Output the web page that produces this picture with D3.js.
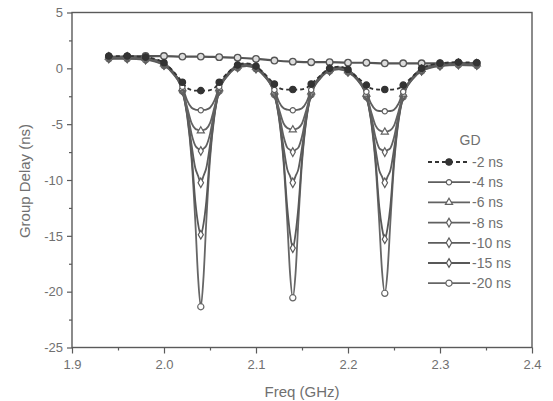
<!DOCTYPE html>
<html>
<head>
<meta charset="utf-8">
<script src="https://cdn.jsdelivr.net/npm/d3@7"></script>
<style>
  body { margin: 0; background: #fff; }
  svg { display: block; font-family: 'Liberation Sans', Arial, sans-serif; }
</style>
</head>
<body>
<svg id="chart" width="553" height="401"></svg>
<script>
// frequency grid (GHz), denser near the three resonances
var freqs = [
  1.94, 1.96, 1.98, 2.0, 2.01, 2.02, 2.025, 2.03, 2.034, 2.037, 2.04, 2.043,
  2.046, 2.05, 2.055, 2.06, 2.07, 2.08, 2.09, 2.1, 2.11, 2.12, 2.125, 2.13,
  2.134, 2.137, 2.14, 2.143, 2.146, 2.15, 2.155, 2.16, 2.17, 2.18, 2.19, 2.2,
  2.21, 2.22, 2.225, 2.23, 2.234, 2.237, 2.24, 2.243, 2.246, 2.25, 2.255,
  2.26, 2.27, 2.28, 2.3, 2.32, 2.34,
]

var gd2 = [
  1.1, 1.1, 1.0, 0.5, -0.25, -1.25, -1.75, -1.95, -2.0, -2.0, -2.0, -2.0,
  -2.0, -1.95, -1.75, -1.25, -0.35, 0.3, 0.45, 0.2, -0.55, -1.4, -1.75, -1.88,
  -1.9, -1.9, -1.9, -1.9, -1.9, -1.88, -1.75, -1.4, -0.65, 0.0, 0.15, -0.1,
  -0.8, -1.5, -1.8, -1.88, -1.9, -1.9, -1.9, -1.9, -1.9, -1.88, -1.8, -1.5,
  -0.75, 0.0, 0.45, 0.55, 0.5,
]
var gd4 = [
  1.05, 1.05, 0.95, 0.45, -0.3, -1.65, -2.85, -3.53, -3.69, -3.73, -3.75,
  -3.73, -3.69, -3.53, -2.85, -1.65, -0.4, 0.25, 0.4, 0.15, -0.6, -1.93, -3.0,
  -3.58, -3.7, -3.74, -3.75, -3.74, -3.7, -3.58, -3.0, -1.93, -0.7, -0.05, 0.1,
  -0.15, -0.85, -2.1, -3.15, -3.7, -3.82, -3.84, -3.85, -3.84, -3.82, -3.7,
  -3.15, -2.1, -0.8, -0.05, 0.4, 0.5, 0.45,
]
var gd6 = [
  1.0, 1.0, 0.9, 0.4, -0.35, -1.82, -3.43, -4.91, -5.41, -5.52, -5.6, -5.52,
  -5.41, -4.91, -3.43, -1.82, -0.45, 0.2, 0.35, 0.1, -0.65, -2.1, -3.64,
  -4.94, -5.35, -5.44, -5.5, -5.44, -5.35, -4.94, -3.64, -2.1, -0.75, -0.1,
  0.05, -0.2, -0.9, -2.3, -3.84, -5.14, -5.55, -5.64, -5.7, -5.64, -5.55,
  -5.14, -3.84, -2.3, -0.85, -0.1, 0.35, 0.45, 0.4,
]
var gd8 = [
  1.0, 1.0, 0.9, 0.4, -0.35, -1.86, -3.69, -5.89, -6.92, -7.19, -7.4, -7.19,
  -6.92, -5.89, -3.69, -1.86, -0.45, 0.2, 0.35, 0.1, -0.65, -2.16, -3.97,
  -6.1, -7.1, -7.3, -7.5, -7.3, -7.1, -6.1, -3.97, -2.16, -0.75, -0.1, 0.05,
  -0.2, -0.9, -2.35, -4.15, -6.2, -7.15, -7.32, -7.5, -7.32, -7.15, -6.2,
  -4.15, -2.35, -0.85, -0.1, 0.35, 0.45, 0.4,
]
var gd10 = [
  0.95, 0.95, 0.85, 0.35, -0.4, -1.94, -3.91, -6.88, -8.93, -9.62, -10.25,
  -9.62, -8.93, -6.88, -3.91, -1.94, -0.5, 0.15, 0.3, 0.05, -0.7, -2.24, -4.2,
  -7.1, -9.05, -9.65, -10.25, -9.65, -9.05, -7.1, -4.2, -2.24, -0.8, -0.15,
  0.0, -0.25, -0.95, -2.44, -4.4, -7.25, -9.15, -9.7, -10.25, -9.7, -9.15,
  -7.25, -4.4, -2.44, -0.9, -0.15, 0.3, 0.4, 0.35,
]
var gd15 = [
  0.9, 0.9, 0.8, 0.3, -0.45, -2.0, -4.05, -7.7, -11.9, -13.9, -14.9, -13.9,
  -11.9, -7.7, -4.05, -2.0, -0.55, 0.1, 0.25, 0.0, -0.75, -2.3, -4.35, -8.1,
  -12.5, -14.8, -16.1, -14.8, -12.5, -8.1, -4.35, -2.3, -0.85, -0.2, -0.05,
  -0.3, -1.0, -2.5, -4.55, -8.2, -12.4, -14.3, -15.3, -14.3, -12.4, -8.2,
  -4.55, -2.5, -0.95, -0.2, 0.25, 0.35, 0.3,
]
var gd20 = [
  0.85, 0.85, 0.75, 0.25, -0.5, -2.05, -4.15, -8.15, -13.65, -18.65, -21.35,
  -18.65, -13.65, -8.15, -4.15, -2.05, -0.6, 0.05, 0.2, -0.05, -0.8, -2.35,
  -4.45, -8.45, -13.75, -18.35, -20.55, -18.35, -13.75, -8.45, -4.45, -2.35,
  -0.9, -0.25, -0.1, -0.35, -1.05, -2.55, -4.65, -8.65, -13.85, -18.15,
  -20.15, -18.15, -13.85, -8.65, -4.65, -2.55, -1.0, -0.25, 0.2, 0.3, 0.25,
]

// flat reference trace with symbols running along the top of the plot
var refFreqs = [
  1.94, 1.96, 1.98, 2.0, 2.02, 2.04, 2.06, 2.08, 2.1, 2.12, 2.14, 2.16, 2.18,
  2.2, 2.22, 2.24, 2.26, 2.28, 2.3, 2.32, 2.34,
]
var gdRef = [
  1.0, 1.05, 1.1, 1.1, 1.05, 1.05, 1.0, 0.95, 0.85, 0.7, 0.6, 0.55, 0.55, 0.5,
  0.5, 0.45, 0.45, 0.45, 0.45, 0.45, 0.45,
]

var seriesNames = ['-2 ns', '-4 ns', '-6 ns', '-8 ns', '-10 ns', '-15 ns', '-20 ns']
var seriesValues = [gd2, gd4, gd6, gd8, gd10, gd15, gd20]

var xTicks = [1.9, 2.0, 2.1, 2.2, 2.3, 2.4]
var yTicks = [5, 0, -5, -10, -15, -20, -25]

// styling per series (Origin-like symbol sequence)
var styles = [
  { stroke: '#333', dash: '4,3', symbol: d3.symbolCircle, fill: '#333', size: 32 },
  { stroke: '#5e5e5e', dash: null, symbol: d3.symbolCircle, fill: '#fff', size: 22 },
  { stroke: '#626262', dash: null, symbol: d3.symbolTriangle, fill: '#fff', size: 22 },
  { stroke: '#606060', dash: null, symbol: d3.symbolDiamond, fill: '#fff', size: 22 },
  { stroke: '#5c5c5c', dash: null, symbol: d3.symbolDiamond, fill: '#fff', size: 26 },
  { stroke: '#585858', dash: null, symbol: d3.symbolDiamond, fill: '#fff', size: 22 },
  { stroke: '#666', dash: null, symbol: d3.symbolCircle, fill: '#fff', size: 30 },
]

var svg = d3.select('#chart')
var margin = { left: 72, top: 12.5, right: 21, bottom: 53.5 }
var width = 553 - margin.left - margin.right
var height = 401 - margin.top - margin.bottom

var x = d3.scaleLinear().domain([1.9, 2.4]).range([0, width])
var y = d3.scaleLinear().domain([-25, 5]).range([height, 0])

var g = svg
  .append('g')
  .attr('transform', 'translate(' + margin.left + ',' + margin.top + ')')

var axisColor = '#5a5a5a'
var textColor = '#707070'

// minor ticks first
var xMinor = [1.95, 2.05, 2.15, 2.25, 2.35]
var yMinor = [2.5, -2.5, -7.5, -12.5, -17.5, -22.5]

g.append('g')
  .attr('transform', 'translate(0,' + height + ')')
  .call(d3.axisBottom(x).tickValues(xMinor).tickSize(3).tickFormat(''))
g.append('g').call(
  d3.axisLeft(y).tickValues(yMinor).tickSize(3).tickFormat('')
)

g.append('g')
  .attr('transform', 'translate(0,' + height + ')')
  .call(
    d3
      .axisBottom(x)
      .tickValues(xTicks)
      .tickSize(6)
      .tickPadding(6)
      .tickFormat(d3.format('.1f'))
  )

g.append('g').call(
  d3.axisLeft(y).tickValues(yTicks).tickSize(5).tickPadding(4).tickFormat(function (d) {
    return d < 0 ? '-' + Math.abs(d) : String(d)
  })
)

g.selectAll('.domain').remove()
g.selectAll('.tick line').attr('stroke', axisColor).attr('stroke-width', 1.2)
g.selectAll('.tick text')
  .attr('fill', textColor)
  .style('font-size', '13px')

// frame
g.append('rect')
  .attr('x', 0)
  .attr('y', 0)
  .attr('width', width)
  .attr('height', height)
  .attr('fill', 'none')
  .attr('stroke', axisColor)
  .attr('stroke-width', 1.4)

var line = d3
  .line()
  .x(function (d) {
    return x(d[0])
  })
  .y(function (d) {
    return y(d[1])
  })
  .curve(d3.curveMonotoneX)

function isMarkerFreq(f) {
  var k = (f - 1.94) / 0.02
  return Math.abs(k - Math.round(k)) < 1e-6
}

// reference trace
var refPts = refFreqs.map(function (f, i) {
  return [f, gdRef[i]]
})
g.append('path')
  .datum(refPts)
  .attr('d', line)
  .attr('fill', 'none')
  .attr('stroke', '#555')
  .attr('stroke-width', 2.2)
g.selectAll('.ref')
  .data(refPts)
  .enter()
  .append('path')
  .attr('class', 'ref')
  .attr('d', d3.symbol().type(d3.symbolCircle).size(34))
  .attr('transform', function (d) {
    return 'translate(' + x(d[0]) + ',' + y(d[1]) + ')'
  })
  .attr('fill', '#ddd')
  .attr('stroke', '#555')
  .attr('stroke-width', 1.3)

// curves, deepest first so the -2 ns trace sits on top
for (var s = seriesValues.length - 1; s >= 0; s--) {
  var pts = freqs.map(function (f, i) {
    return [f, seriesValues[s][i]]
  })
  var st = styles[s]
  g.append('path')
    .datum(pts)
    .attr('d', line)
    .attr('fill', 'none')
    .attr('stroke', st.stroke)
    .attr('stroke-width', 1.8)
    .attr('stroke-dasharray', st.dash)

  g.selectAll('.m' + s)
    .data(
      pts.filter(function (p) {
        return isMarkerFreq(p[0])
      })
    )
    .enter()
    .append('path')
    .attr('class', 'm' + s)
    .attr('d', d3.symbol().type(st.symbol).size(st.size))
    .attr('transform', function (d) {
      return 'translate(' + x(d[0]) + ',' + y(d[1]) + ')'
    })
    .attr('fill', st.fill)
    .attr('stroke', st.stroke)
    .attr('stroke-width', 1.2)
}

// legend
var legend = svg.append('g').attr('transform', 'translate(428,140)')
legend
  .append('text')
  .attr('x', 42)
  .attr('y', 5)
  .attr('text-anchor', 'middle')
  .attr('fill', textColor)
  .style('font-size', '14px')
  .text('GD')

seriesNames.forEach(function (name, i) {
  var st = styles[i]
  var row = legend.append('g').attr('transform', 'translate(0,' + (22 + i * 20.2) + ')')
  row
    .append('line')
    .attr('x1', 0)
    .attr('x2', 42)
    .attr('stroke', st.stroke)
    .attr('stroke-width', 1.8)
    .attr('stroke-dasharray', st.dash)
  row
    .append('path')
    .attr('d', d3.symbol().type(st.symbol).size(st.size))
    .attr('transform', 'translate(21,0)')
    .attr('fill', st.fill)
    .attr('stroke', st.stroke)
    .attr('stroke-width', 1.2)
  row
    .append('text')
    .attr('x', 44)
    .attr('y', 5)
    .attr('fill', textColor)
    .style('font-size', '14px')
    .text(name)
})

// axis titles
svg
  .append('text')
  .attr('x', 302)
  .attr('y', 397)
  .attr('text-anchor', 'middle')
  .attr('fill', textColor)
  .style('font-size', '15px')
  .text('Freq (GHz)')

svg
  .append('text')
  .attr('transform', 'translate(30,181) rotate(-90)')
  .attr('text-anchor', 'middle')
  .attr('fill', textColor)
  .style('font-size', '15px')
  .text('Group Delay (ns)')
</script>
</body>
</html>
